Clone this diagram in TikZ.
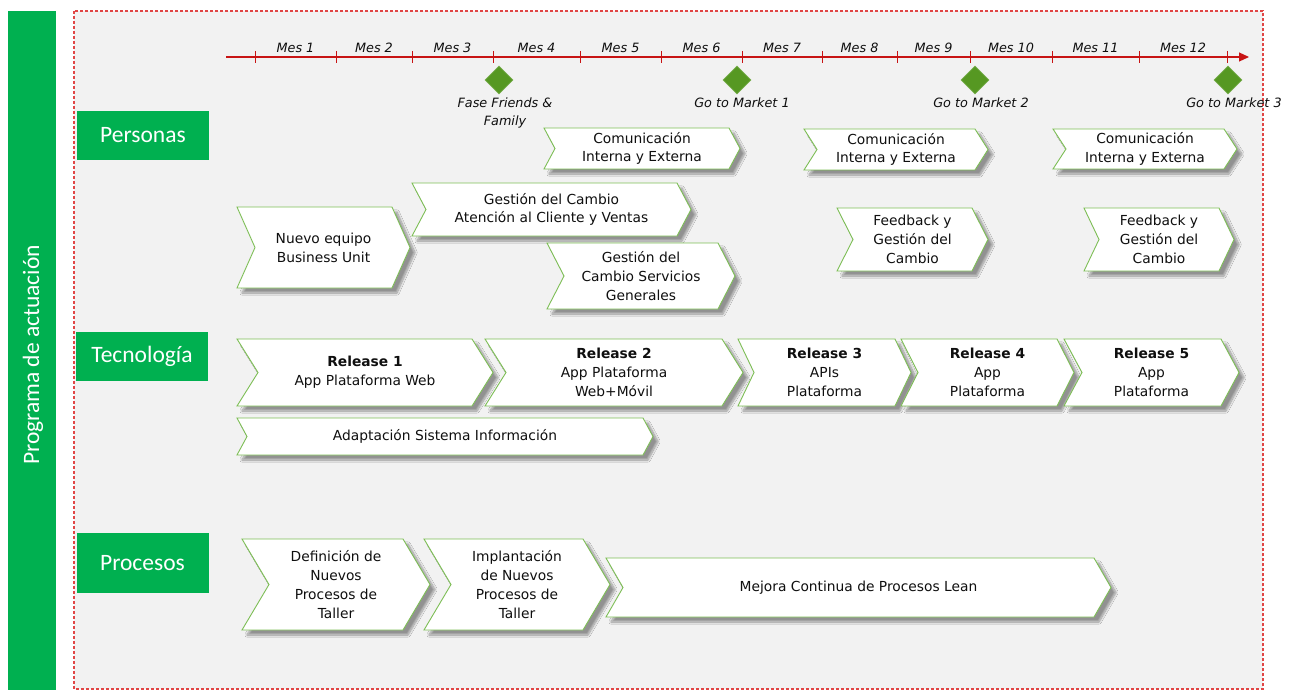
\documentclass[tikz,border=0pt]{standalone}
\usepackage{fontspec}
\setmainfont{DejaVu Sans}
\newfontfamily\labelfont{Carlito}
\usetikzlibrary{positioning,shapes.geometric,arrows.meta,shadows.blur}

\definecolor{catgreen}{RGB}{0,176,80}
\definecolor{chevgreen}{RGB}{125,190,85}
\definecolor{hitogreen}{RGB}{86,152,34}
\definecolor{linered}{RGB}{200,20,20}
\definecolor{dashred}{RGB}{225,70,70}
\definecolor{panelgray}{RGB}{242,242,242}
\definecolor{txtdark}{RGB}{15,15,15}

\tikzset{
	catbox/.style={fill=catgreen,text=white,inner sep=0pt,minimum width=132pt,
		font=\labelfont\fontsize{23.5}{26}\selectfont},
	chevbox/.style={draw=chevgreen,line width=0.9pt,fill=white,
		blur shadow={shadow xshift=5pt,shadow yshift=-5pt,shadow opacity=40,shadow blur steps=10}},
	chevtext/.style={align=center,text=txtdark,inner sep=0pt,
		font=\fontsize{13.8}{18.8}\selectfont},
	timeline/.style={draw=linered,line width=1.2pt},
	meslabel/.style={text=txtdark,inner sep=0pt,font=\itshape\fontsize{12.8}{15}\selectfont},
	hito/.style={diamond,fill=hitogreen,draw=hitogreen!80!white,line width=0.6pt,
		minimum size=28pt,inner sep=0pt},
	hitolabel/.style={align=center,text=txtdark,inner sep=0pt,
		font=\itshape\fontsize{12.8}{18}\selectfont}
}

\begin{document}
\begin{tikzpicture}[x=1pt,y=-1pt]

\useasboundingbox (0,0) rectangle (1294,690);
\fill[white] (0,0) rectangle (1294,690);

% panel
\fill[panelgray] (74,11) rectangle (1263,689);
\draw[dashred,line width=1.1pt,dash pattern=on 3pt off 2pt] (74,11) rectangle (1263,689);

% side bar
\fill[catgreen] (8,11) rectangle (56,690);
\node[rotate=90,text=white,font=\labelfont\fontsize{23.5}{26}\selectfont] (programa) at (33,355) {Programa de actuación};

% rows
\node[catbox,minimum height=49pt] (personas) at (143,135.5) {Personas};
\node[catbox,minimum height=49pt] (tecnologia) at (142,356.5) {Tecnología};
\node[catbox,minimum height=60pt] (procesos) at (142.5,563) {Procesos};

% timeline
\coordinate (tl0) at (226,57);
\coordinate (tl1) at (1249,57);
\draw[timeline,-{Triangle[length=10pt,width=9pt]}] (tl0) -- (tl1);
\foreach \x in {255,336,412,493,580,661,742,822,897,970,1052,1139,1227}{
	\draw[timeline,line width=1pt] (\x,51) -- (\x,63);
}
\foreach \a/\b/\m in {255/336/1,336/412/2,412/493/3,493/580/4,580/661/5,661/742/6,
	742/822/7,822/897/8,897/970/9,970/1052/10,1052/1139/11,1139/1227/12}{
	\node[meslabel] (mes\m) at ({(\a+\b)/2},48) {Mes \m};
}

% hitos
\foreach \x/\n in {499/ff,737/gm1,975/gm2,1228/gm3}{
	\node[hito] (hito\n) at (\x,80) {};
}
\node[hitolabel,below=3pt of hitoff,xshift=6pt] (lblff) {Fase Friends \&\\Family};
\node[hitolabel,below=3pt of hitogm1,xshift=5pt] (lblgm1) {Go to Market 1};
\node[hitolabel,below=3pt of hitogm2,xshift=6pt] (lblgm2) {Go to Market 2};
\node[hitolabel,below=3pt of hitogm3,xshift=6pt] (lblgm3) {Go to Market 3};

% chevrons: name/left/tip/top/bottom/depth/text
\foreach \n/\xl/\xr/\yt/\yb/\d/\t in {
	comA/544/740/128/169/11/{Comunicación\\Interna y Externa},
	comB/804/988/129/170/13/{Comunicación\\Interna y Externa},
	comC/1053/1237/129/169/13/{Comunicación\\Interna y Externa},
	nuevo/237/410/207/288/18/{Nuevo equipo\\Business Unit},
	gcatencion/412/691/183/236/14/{Gestión del Cambio\\Atención al Cliente y Ventas},
	gcservicios/547/735/243/309/17/{Gestión del\\Cambio Servicios\\Generales},
	feedA/837/988/208/271/16/{Feedback y\\Gestión del\\Cambio},
	feedB/1084/1234/208/271/15/{Feedback y\\Gestión del\\Cambio},
	rel1/237/493/339/406/21/{\textbf{Release 1}\\App Plataforma Web},
	rel2/485/743/339/406/21/{\textbf{Release 2}\\App Plataforma\\Web+Móvil},
	rel3/738/911/339/406/16/{\textbf{Release 3}\\APIs\\Plataforma},
	rel4/901/1074/339/406/17/{\textbf{Release 4}\\App\\Plataforma},
	rel5/1064/1239/339/406/18/{\textbf{Release 5}\\App\\Plataforma},
	adapt/237/653/418/455/10/{Adaptación Sistema Información},
	defin/242/430/539/630/27/{Definición de\\Nuevos\\Procesos de\\Taller},
	implan/424/610/539/630/27/{Implantación\\de Nuevos\\Procesos de\\Taller},
	mejora/606/1111/558/617/17/{Mejora Continua de Procesos Lean}}{
	\draw[chevbox] (\xl,\yt) -- ({\xr-\d},\yt) -- (\xr,{(\yt+\yb)/2}) -- ({\xr-\d},\yb)
		-- (\xl,\yb) -- ({\xl+\d},{(\yt+\yb)/2}) -- cycle;
	\node[chevtext] (\n) at ({(\xl+\xr)/2},{(\yt+\yb)/2}) {\t};
}

\end{tikzpicture}
\end{document}
